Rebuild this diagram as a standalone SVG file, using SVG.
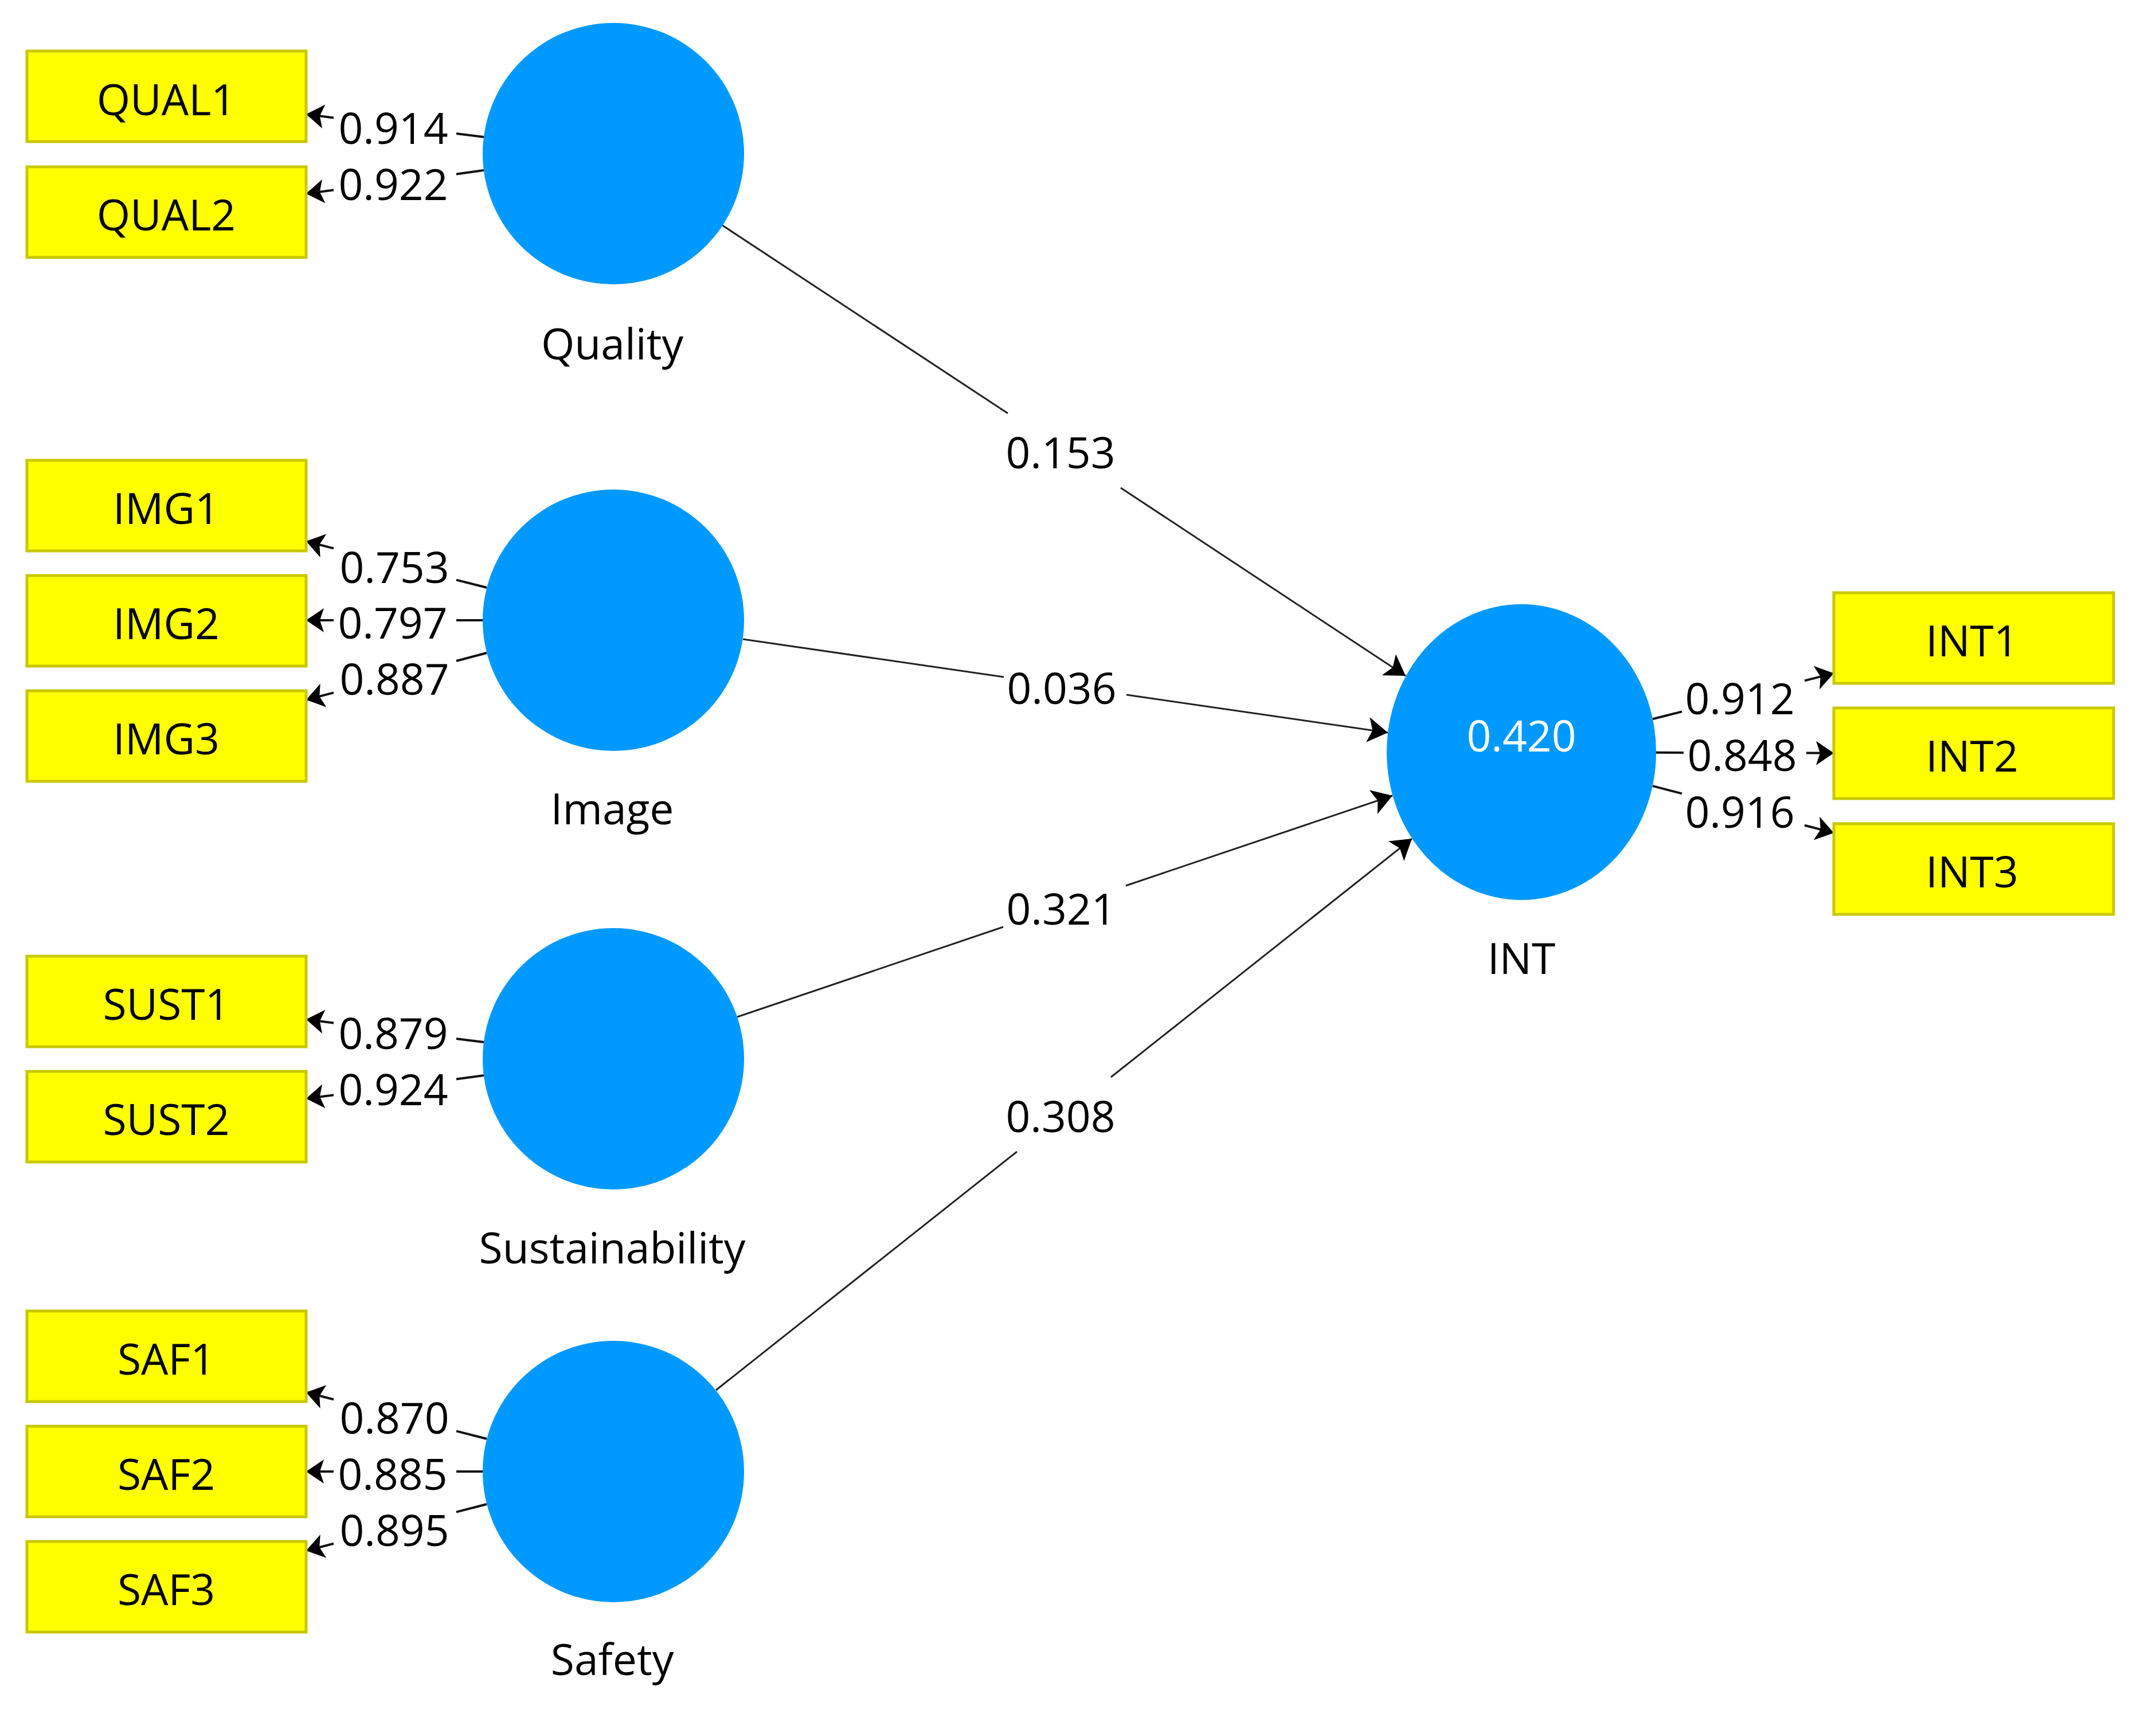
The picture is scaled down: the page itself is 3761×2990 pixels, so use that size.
<svg xmlns="http://www.w3.org/2000/svg" width="3761" height="2990" viewBox="0 0 3761 2990">
<style>
.lv{fill:#0099FF;}
.mv{fill:#FFFF00;stroke:#C8C800;stroke-width:5;}
text{font-family:"Open Sans","Noto Sans","Liberation Sans",sans-serif;font-size:75px;text-anchor:middle;fill:#000;}
.w{fill:#FFFFFF;}
.ld{stroke:#111;stroke-width:4;fill:none;}
.pt{stroke:#222;stroke-width:3;fill:none;}
.la{marker-end:url(#ah);}
.pa{marker-end:url(#ap);}
</style>
<defs>
<marker id="ah" markerUnits="userSpaceOnUse" viewBox="-34 -24 36 48" markerWidth="36" markerHeight="48" refX="0" refY="0" orient="auto" overflow="visible">
<path d="M0,0 L-31,-21 L-24,0 L-31,21 Z" fill="#000"/>
</marker>
<marker id="ap" markerUnits="userSpaceOnUse" viewBox="-38 -26 40 52" markerWidth="40" markerHeight="52" refX="0" refY="0" orient="auto" overflow="visible">
<path d="M0,0 L-35,-22 L-27,0 L-35,22 Z" fill="#000"/>
</marker>
</defs>
<rect width="3761" height="2990" fill="#FFFFFF"/>

<g id="connectors">
<line class="pt" x1="1260" y1="393" x2="1758" y2="721"/>
<line class="pt pa" x1="1955" y1="851" x2="2452" y2="1179"/>
<text x="1850" y="817">0.153</text>
<line class="pt" x1="1296" y1="1115" x2="1751" y2="1181"/>
<line class="pt pa" x1="1965" y1="1212" x2="2421" y2="1278"/>
<text x="1852" y="1228">0.036</text>
<line class="pt" x1="1286" y1="1774" x2="1750" y2="1617"/>
<line class="pt pa" x1="1964" y1="1545" x2="2429" y2="1388"/>
<text x="1851" y="1613">0.321</text>
<line class="pt" x1="1249" y1="2425" x2="1774" y2="2009"/>
<line class="pt pa" x1="1938" y1="1879" x2="2463" y2="1463"/>
<text x="1850" y="1975">0.308</text>

<line class="ld" x1="844" y1="239" x2="796" y2="232.9"/>
<line class="ld la" x1="582" y1="205.4" x2="534" y2="199.3"/>
<text x="686" y="251">0.914</text>
<line class="ld" x1="844" y1="297" x2="796" y2="303.7"/>
<line class="ld la" x1="582" y1="331.5" x2="534" y2="337.8"/>
<text x="686" y="349">0.922</text>

<line class="ld" x1="849" y1="1025" x2="796" y2="1011.6"/>
<line class="ld la" x1="582" y1="956.6" x2="534" y2="944.2"/>
<text x="688" y="1017">0.753</text>
<line class="ld" x1="842" y1="1082" x2="796" y2="1082"/>
<line class="ld la" x1="582" y1="1082" x2="534" y2="1082"/>
<text x="685" y="1114">0.797</text>
<line class="ld" x1="849" y1="1139" x2="796" y2="1153"/>
<line class="ld la" x1="582" y1="1208.4" x2="534" y2="1220.8"/>
<text x="688" y="1212">0.887</text>

<line class="ld" x1="844" y1="1818" x2="796" y2="1811.9"/>
<line class="ld la" x1="582" y1="1784.4" x2="534" y2="1778.3"/>
<text x="686" y="1830">0.879</text>
<line class="ld" x1="844" y1="1876" x2="796" y2="1882.5"/>
<line class="ld la" x1="582" y1="1910.2" x2="534" y2="1916.4"/>
<text x="686" y="1928">0.924</text>

<line class="ld" x1="849" y1="2510" x2="796" y2="2496.4"/>
<line class="ld la" x1="582" y1="2441.3" x2="534" y2="2428.9"/>
<text x="688" y="2501">0.870</text>
<line class="ld" x1="842" y1="2567" x2="796" y2="2567"/>
<line class="ld la" x1="582" y1="2567" x2="534" y2="2567"/>
<text x="685" y="2599">0.885</text>
<line class="ld" x1="849" y1="2624" x2="796" y2="2637.6"/>
<line class="ld la" x1="582" y1="2692.7" x2="534" y2="2705.1"/>
<text x="688" y="2697">0.895</text>

<line class="ld" x1="2883" y1="1254.2" x2="2934" y2="1241.4"/>
<line class="ld la" x1="3148" y1="1187.4" x2="3199" y2="1174.5"/>
<text x="3035" y="1246">0.912</text>
<line class="ld" x1="2889" y1="1312.7" x2="2937" y2="1312.9"/>
<line class="ld la" x1="3151" y1="1313.6" x2="3199" y2="1313.7"/>
<text x="3039" y="1345">0.848</text>
<line class="ld" x1="2883" y1="1371.1" x2="2934" y2="1384.4"/>
<line class="ld la" x1="3148" y1="1439.7" x2="3199" y2="1452.9"/>
<text x="3035" y="1444">0.916</text>
</g>

<g id="Quality">
<circle class="lv" cx="1070" cy="268" r="228"/>
<text x="1068" y="627">Quality</text>
</g>
<g id="Image">
<circle class="lv" cx="1070" cy="1082" r="228"/>
<text x="1068" y="1438">Image</text>
</g>
<g id="Sustainability">
<circle class="lv" cx="1070" cy="1847" r="228"/>
<text x="1068" y="2204">Sustainability</text>
</g>
<g id="Safety">
<circle class="lv" cx="1070" cy="2567" r="228"/>
<text x="1068" y="2922">Safety</text>
</g>
<g id="INT">
<ellipse class="lv" cx="2654" cy="1312" rx="235" ry="258"/>
<text class="w" x="2654" y="1311">0.420</text>
<text x="2654" y="1699">INT</text>
</g>

<g id="QUAL1"><rect class="mv" x="47" y="89" width="487" height="158"/><text x="290" y="201">QUAL1</text></g>
<g id="QUAL2"><rect class="mv" x="47" y="291" width="487" height="158"/><text x="290" y="402">QUAL2</text></g>
<g id="IMG1"><rect class="mv" x="47" y="803" width="487" height="158"/><text x="290" y="914">IMG1</text></g>
<g id="IMG2"><rect class="mv" x="47" y="1004" width="487" height="158"/><text x="290" y="1115">IMG2</text></g>
<g id="IMG3"><rect class="mv" x="47" y="1205" width="487" height="158"/><text x="290" y="1316">IMG3</text></g>
<g id="SUST1"><rect class="mv" x="47" y="1668" width="487" height="158"/><text x="290" y="1779">SUST1</text></g>
<g id="SUST2"><rect class="mv" x="47" y="1869" width="487" height="158"/><text x="290" y="1980">SUST2</text></g>
<g id="SAF1"><rect class="mv" x="47" y="2287" width="487" height="158"/><text x="290" y="2398">SAF1</text></g>
<g id="SAF2"><rect class="mv" x="47" y="2488" width="487" height="158"/><text x="290" y="2599">SAF2</text></g>
<g id="SAF3"><rect class="mv" x="47" y="2689" width="487" height="158"/><text x="290" y="2800">SAF3</text></g>
<g id="INT1"><rect class="mv" x="3199" y="1034" width="488" height="158"/><text x="3440" y="1145">INT1</text></g>
<g id="INT2"><rect class="mv" x="3199" y="1235" width="488" height="158"/><text x="3440" y="1346">INT2</text></g>
<g id="INT3"><rect class="mv" x="3199" y="1437" width="488" height="158"/><text x="3440" y="1548">INT3</text></g>
</svg>
